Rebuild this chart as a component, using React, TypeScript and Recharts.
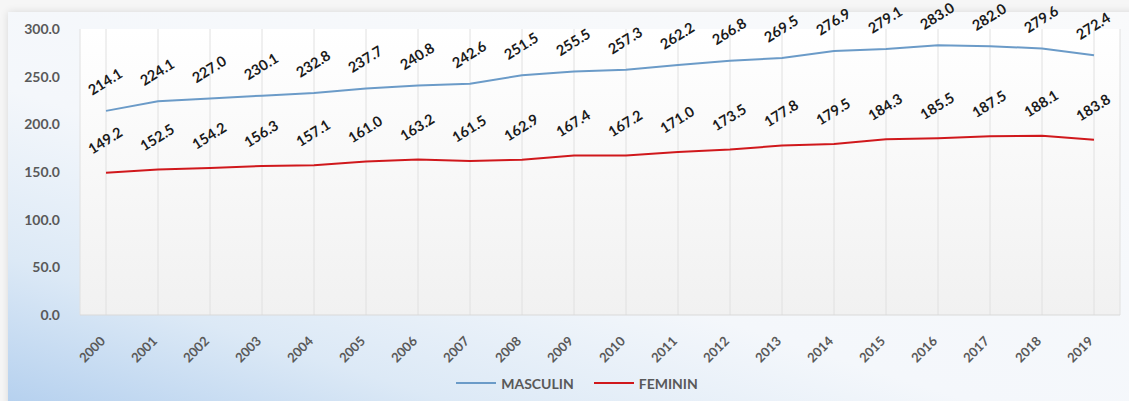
import { LineChart, Line, XAxis, YAxis, CartesianGrid, Legend } from "recharts";

const years = [
    "2000", "2001", "2002", "2003", "2004", "2005", "2006", "2007", "2008", "2009",
    "2010", "2011", "2012", "2013", "2014", "2015", "2016", "2017", "2018", "2019",
];
const masculin = [
    214.1, 224.1, 227.0, 230.1, 232.8, 237.7, 240.8, 242.6, 251.5, 255.5,
    257.3, 262.2, 266.8, 269.5, 276.9, 279.1, 283.0, 282.0, 279.6, 272.4,
];
const feminin = [
    149.2, 152.5, 154.2, 156.3, 157.1, 161.0, 163.2, 161.5, 162.9, 167.4,
    167.2, 171.0, 173.5, 177.8, 179.5, 184.3, 185.5, 187.5, 188.1, 183.8,
];
const seriesNames = ["MASCULIN", "FEMININ"];
const yTicks = [0, 50, 100, 150, 200, 250, 300];

const data = years.map((year, i) => ({
    year,
    MASCULIN: masculin[i],
    FEMININ: feminin[i],
}));

const FONT = "Lato, 'Open Sans', sans-serif";
const BLUE = "#6b9bc8";
const RED = "#d0181c";

function XTick({ x, y, payload }: any) {
    const tx = x;
    const ty = y + 19;
    return (
        <text
            x={tx}
            y={ty}
            transform={`rotate(-45, ${tx}, ${ty})`}
            textAnchor="end"
            fontFamily={FONT}
            fontWeight={700}
            fontSize={13}
            fill="#595959"
        >
            {payload.value}
        </text>
    );
}

function makeLabel(offset: number) {
    return ({ x, y, value }: any) => {
        const ly = y - offset;
        return (
            <text
                x={x}
                y={ly}
                transform={`rotate(-32, ${x}, ${ly})`}
                textAnchor="middle"
                dominantBaseline="middle"
                fontFamily={FONT}
                fontWeight={700}
                fontSize={14.5}
                fill="#1a1a1a"
            >
                {Number(value).toFixed(1)}
            </text>
        );
    };
}

function LegendBox({ payload }: any) {
    const items = seriesNames
        .map((name) => (payload || []).find((p: any) => p.value === name))
        .filter(Boolean);
    return (
        <div style={{ height: 36, display: "flex", justifyContent: "center", alignItems: "center", gap: 20, paddingLeft: 26 }}>
            {items.map((item: any) => (
                <div key={item.value} style={{ display: "flex", alignItems: "center" }}>
                    <span style={{ width: 40, height: 2, background: item.color, marginRight: 5, flexShrink: 0 }} />
                    <span style={{ fontFamily: FONT, fontWeight: 700, fontSize: 14, color: "#595959" }}>
                        {item.value}
                    </span>
                </div>
            ))}
        </div>
    );
}

export default function App() {
    return (
        <div style={{ position: "fixed", left: 0, top: 0, width: 1129, height: 401, background: "#f6f6f6", overflow: "hidden" }}>
            <div
                style={{
                    position: "absolute",
                    left: 8,
                    top: 12,
                    width: 1140,
                    height: 400,
                    background: "linear-gradient(18deg, #b3cfee 0%, #dce9f6 20%, #f4f7fb 42%, #f9fafb 100%)",
                    boxShadow: "0 0 8px rgba(0,0,0,0.12)",
                }}
            />
            <div style={{ position: "absolute", left: 0, top: 0 }}>
                <LineChart width={1129} height={401} data={data} margin={{ top: 29, right: 9, left: 8, bottom: 0 }}>
                    <defs>
                        <linearGradient id="plotBg" x1="0" y1="0" x2="0" y2="1">
                            <stop offset="0%" stopColor="#ffffff" />
                            <stop offset="100%" stopColor="#f1f1f1" />
                        </linearGradient>
                    </defs>
                    <CartesianGrid horizontal={false} stroke="#e0e0e0" fill="url(#plotBg)" />
                    <XAxis
                        dataKey="year"
                        padding={{ left: 26, right: 26 }}
                        tick={<XTick />}
                        tickLine={false}
                        axisLine={{ stroke: "#d9d9d9" }}
                        interval={0}
                        height={50}
                    />
                    <YAxis
                        domain={[0, 300]}
                        ticks={yTicks}
                        width={72}
                        tickLine={false}
                        axisLine={false}
                        tickMargin={14}
                        tickFormatter={(v: number) => v.toFixed(1)}
                        tick={{ fontFamily: FONT, fontWeight: 700, fontSize: 14, fill: "#595959" }}
                    />
                    <Legend verticalAlign="bottom" height={36} content={<LegendBox />} />
                    <Line
                        type="linear"
                        dataKey="MASCULIN"
                        stroke={BLUE}
                        strokeWidth={2}
                        dot={false}
                        isAnimationActive={false}
                        label={makeLabel(28)}
                    />
                    <Line
                        type="linear"
                        dataKey="FEMININ"
                        stroke={RED}
                        strokeWidth={2}
                        dot={false}
                        isAnimationActive={false}
                        label={makeLabel(31)}
                    />
                </LineChart>
            </div>
        </div>
    );
}
